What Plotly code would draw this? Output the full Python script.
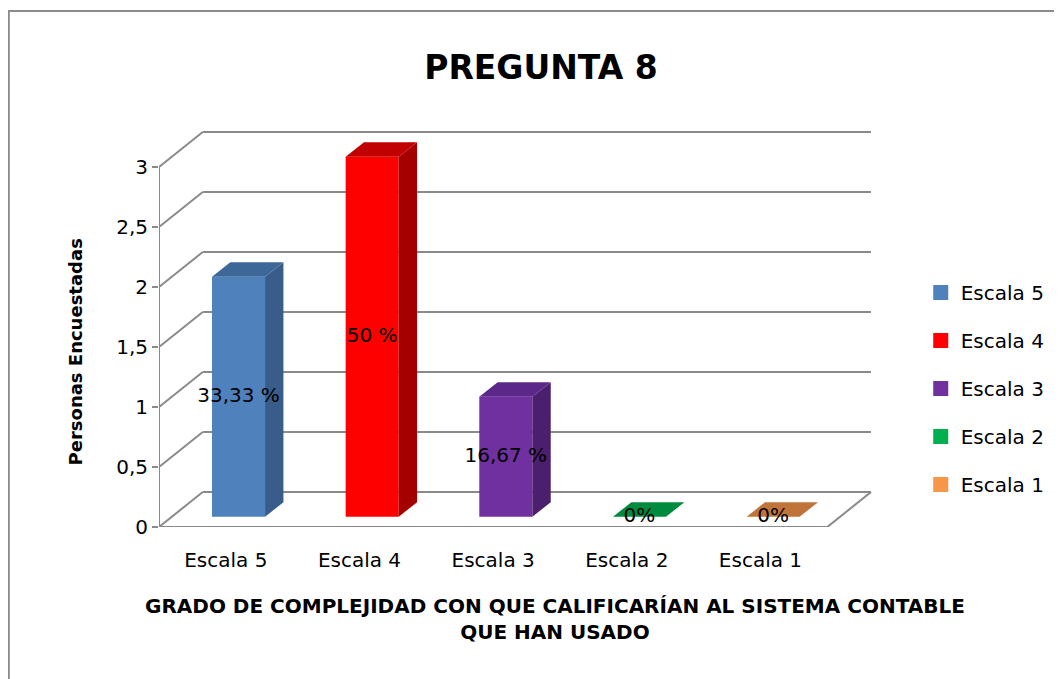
import plotly.graph_objects as go

# ---------------- data ----------------
categories = ["Escala 5", "Escala 4", "Escala 3", "Escala 2", "Escala 1"]
values = [2, 3, 1, 0, 0]
pct_labels = ["33,33 %", "50 %", "16,67 %", "0%", "0%"]
y_tickvals = [0, 0.5, 1, 1.5, 2, 2.5, 3]
y_ticktext = ["0", "0,5", "1", "1,5", "2", "2,5", "3"]

# ---------------- style ----------------
front_colors = ["#4F81BD", "#FF0000", "#7030A0", "#00B050", "#F79646"]
side_colors = ["#385D8A", "#A50000", "#4B1F6E", "#007A38", "#B86A30"]
top_colors = ["#3C6797", "#C00000", "#5B2788", "#008A3E", "#C0743A"]
FONT = "DejaVu Sans, sans-serif"
GRID = "#8A8A8A"

OFF = 8                       # page body margin
W, H = 1062 - OFF, 679 - OFF
L, R, T, B = 159 - OFF, 877 - OFF, 131 - OFF, 527 - OFF
DX, DY = 0.3274, 0.2917           # depth offset (data units)
F0, DEPTH = 0.29, 0.42            # bar depth position
BW = 0.397                        # bar width
XR = [-0.5, -0.5 + (R - L) / 134.4]
YR = [0, (B - T) / 120.0]

def px_x(p):
    return (p - OFF - L) / (R - L)

def px_y(p):
    return (B - (p - OFF)) / (B - T)

fig = go.Figure()

shapes = []
line = dict(color=GRID, width=2)
for v in y_tickvals:
    shapes.append(dict(type="line", xref="x", yref="y", layer="below",
                       x0=-0.5 + DX, x1=4.5 + DX, y0=v + DY, y1=v + DY, line=line))
    shapes.append(dict(type="line", xref="x", yref="y", layer="below",
                       x0=-0.5, x1=-0.5 + DX, y0=v, y1=v + DY, line=line))
shapes.append(dict(type="line", xref="x", yref="y", layer="below",
                   x0=-0.5, x1=4.5, y0=0, y1=0, line=line))
shapes.append(dict(type="line", xref="x", yref="y", layer="below",
                   x0=4.5, x1=4.5 + DX, y0=0, y1=DY, line=line))
shapes.append(dict(type="line", xref="x", yref="y", layer="below",
                   x0=-0.5, x1=-0.5, y0=0, y1=3, line=line))
shapes.append(dict(type="rect", xref="paper", yref="paper", layer="below",
                   x0=px_x(8), x1=px_x(1080), y0=px_y(11), y1=px_y(700),
                   line=dict(color="#8C8C8C", width=2), fillcolor="rgba(0,0,0,0)"))

base = F0 * DY
for i, (cat, v) in enumerate(zip(categories, values)):
    xc = i + F0 * DX
    xl, xr = xc - BW / 2, xc + BW / 2
    ddx, ddy = DEPTH * DX, DEPTH * DY
    fig.add_trace(go.Bar(x=[xc], y=[v], base=[base], width=BW, name=cat,
                         legendgroup=cat, showlegend=False,
                         marker=dict(color=front_colors[i], line=dict(width=0)),
                         hoverinfo="skip"))
    if v > 0:
        fig.add_trace(go.Scatter(
            x=[xr, xr + ddx, xr + ddx, xr, xr],
            y=[base, base + ddy, base + ddy + v, base + v, base],
            fill="toself", fillcolor=side_colors[i], mode="lines",
            line=dict(width=0), showlegend=False, hoverinfo="skip"))
    fig.add_trace(go.Scatter(
        x=[xl, xr, xr + ddx, xl + ddx, xl],
        y=[base + v, base + v, base + v + ddy, base + v + ddy, base + v],
        fill="toself", fillcolor=top_colors[i], mode="lines",
        line=dict(width=0), showlegend=False, hoverinfo="skip"))
    # legend entry
    fig.add_trace(go.Scatter(x=[None], y=[None], mode="markers", name=cat,
                             legendgroup=cat,
                             marker=dict(symbol="square", size=15,
                                         color=front_colors[i]),
                             hoverinfo="skip"))

fig.add_trace(go.Scatter(
    x=[i + F0 * DX for i in range(len(values))],
    y=[base + v / 2 for v in values],
    text=pct_labels, mode="text", textposition="middle center",
    textfont=dict(family=FONT, size=20, color="black"),
    showlegend=False, hoverinfo="skip"))

fig.update_layout(
    width=W, height=H, autosize=False,
    margin=dict(l=L, r=W - R, t=T, b=H - B, pad=0),
    paper_bgcolor="white", plot_bgcolor="rgba(0,0,0,0)",
    barmode="overlay",
    shapes=shapes,
    showlegend=True,
    legend=dict(x=px_x(925), y=px_y(273), xanchor="left", yanchor="top",
                font=dict(family=FONT, size=20, color="black"),
                itemsizing="trace",
                tracegroupgap=19, itemclick=False, itemdoubleclick=False,
                bgcolor="rgba(0,0,0,0)"),
    title=dict(text="<b>PREGUNTA 8</b>", x=(541 - OFF) / W,
               xanchor="center", y=1 - (67 - OFF) / H, yanchor="middle",
               font=dict(family=FONT, size=33, color="black")),
    xaxis=dict(range=XR, tickvals=list(range(len(categories))), ticktext=categories,
               showgrid=False, zeroline=False, showline=False,
               ticks="outside", ticklen=15, tickcolor="rgba(0,0,0,0)",
               tickfont=dict(family=FONT, size=20, color="black"),
               fixedrange=True),
    yaxis=dict(range=YR, tickvals=y_tickvals, ticktext=y_ticktext,
               showgrid=False, zeroline=False, showline=False,
               ticks="outside", ticklen=6, tickcolor=GRID, tickwidth=2,
               tickfont=dict(family=FONT, size=20, color="black"),
               fixedrange=True),
    annotations=[
        dict(text="<b>GRADO DE COMPLEJIDAD CON QUE CALIFICARÍAN AL SISTEMA CONTABLE</b><br><b>QUE HAN USADO</b>",
             xref="paper", yref="paper", x=px_x(557), y=px_y(619),
             xanchor="center", yanchor="middle", showarrow=False,
             font=dict(family=FONT, size=20, color="black")),
        dict(text="<b>Personas Encuestadas</b>", textangle=-90,
             xref="paper", yref="paper", x=px_x(75), y=px_y(352),
             xanchor="center", yanchor="middle", showarrow=False,
             font=dict(family=FONT, size=18, color="black")),
    ],
)

fig.write_html("out.html")
